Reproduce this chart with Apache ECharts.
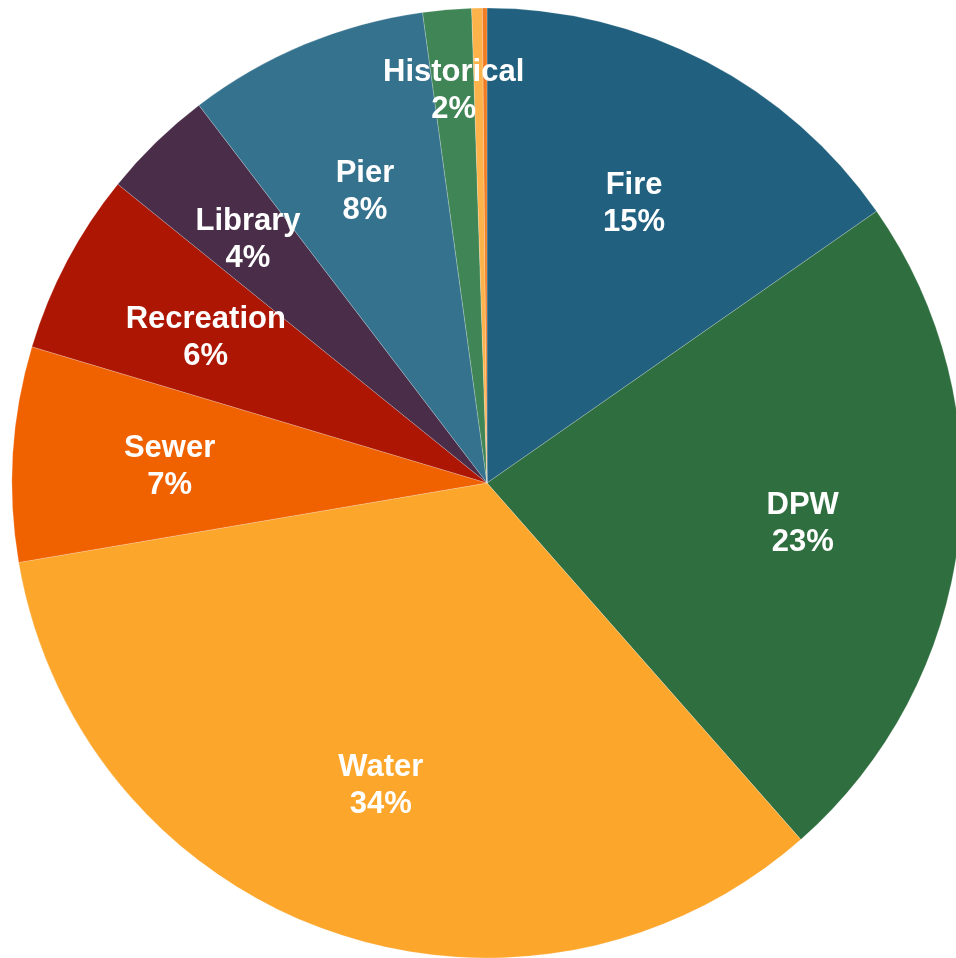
<!DOCTYPE html>
<html>
<head>
<meta charset="utf-8">
<script src="https://cdn.jsdelivr.net/npm/echarts@6/dist/echarts.min.js"></script>
<style>
html,body{margin:0;padding:0;background:#ffffff;}
#chart{width:956px;height:958px;}
</style>
</head>
<body>
<div id="chart"></div>
<script>
// Data (percent of total), clockwise from 12 o'clock
const categories = ['Fire', 'DPW', 'Water', 'Sewer', 'Recreation', 'Library', 'Pier', 'Historical', 'Other A', 'Other B'];
const values = [15.3, 23.2, 33.8, 7.3, 6.2, 3.8, 8.2, 1.65, 0.36, 0.155];
const colors = ['#21607E', '#2F6E3F', '#FCA62C', '#F06100', '#AD1602', '#4A2E49', '#35728E', '#3F8555', '#FDB24A', '#F27C21'];
const labelled = ['Fire', 'DPW', 'Water', 'Sewer', 'Recreation', 'Library', 'Pier', 'Historical'];
// extra radial push for crowded labels (px)
const labelPush = { Library: 25, Historical: 78 };

const CX = 487, CY = 483, R = 475;

const sliceData = categories.map((c, i) => ({ name: c, value: values[i], itemStyle: { color: colors[i] } }));
const labelData = categories.map((c, i) => ({
  name: c, value: values[i],
  label: { show: labelled.indexOf(c) >= 0 }
}));

const chart = echarts.init(document.getElementById('chart'), null, { renderer: 'canvas' });
chart.setOption({
  animation: false,
  series: [
    {
      type: 'pie',
      center: [CX, CY],
      radius: [0, R],
      startAngle: 90,
      clockwise: true,
      silent: true,
      label: { show: false },
      labelLine: { show: false },
      itemStyle: { borderColor: 'rgba(255,255,255,0.35)', borderWidth: 0.6 },
      data: sliceData
    },
    {
      type: 'pie',
      center: [CX, CY],
      radius: [155, R],
      startAngle: 90,
      clockwise: true,
      silent: true,
      avoidLabelOverlap: false,
      itemStyle: { color: 'rgba(0,0,0,0)', borderWidth: 0 },
      labelLine: { show: false },
      label: {
        position: 'inside',
        color: '#ffffff',
        fontFamily: 'Liberation Sans, Arial, sans-serif',
        fontWeight: 'bold',
        fontSize: 31,
        lineHeight: 37,
        formatter: p => p.name + '\n' + Math.round(p.percent) + '%'
      },
      labelLayout: function (p) {
        const name = categories[p.dataIndex];
        const push = labelPush[name] || 0;
        if (!p.labelRect) return {};
        const lx = p.labelRect.x + p.labelRect.width / 2 - CX;
        const ly = p.labelRect.y + p.labelRect.height / 2 - CY;
        const d = Math.sqrt(lx * lx + ly * ly) || 1;
        return { dx: lx / d * push, dy: ly / d * push + 3 };
      },
      data: labelData
    }
  ]
});
</script>
</body>
</html>
